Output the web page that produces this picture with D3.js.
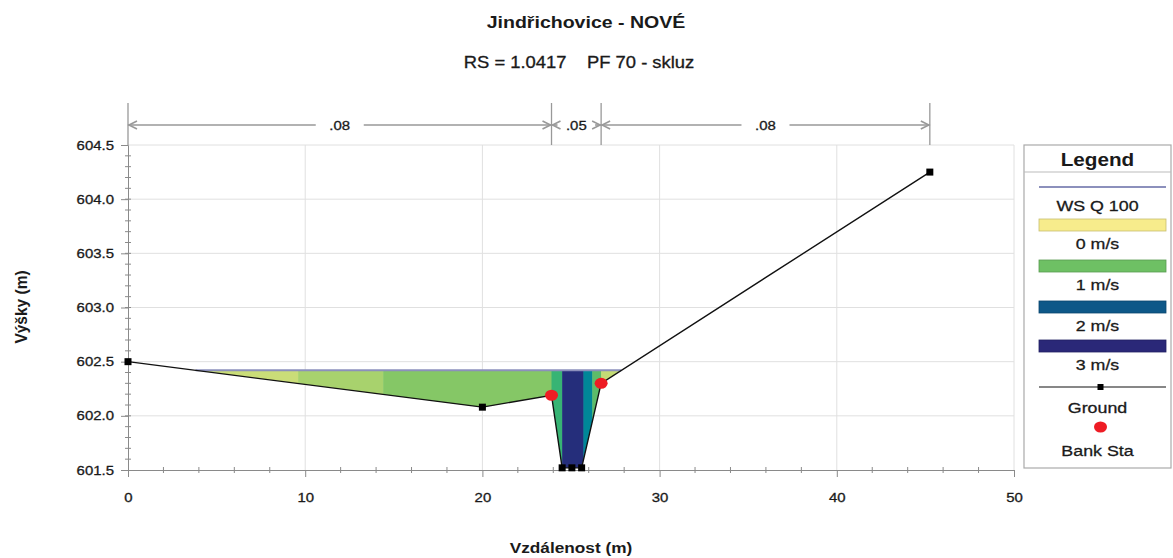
<!DOCTYPE html>
<html>
<head>
<meta charset="utf-8">
<script src="https://cdn.jsdelivr.net/npm/d3@7"></script>
<style>
  html, body { margin: 0; padding: 0; background: #fff; }
  svg { display: block; font-family: "Liberation Sans", Arial, sans-serif; }
  text.reg { stroke: #1a1a1a; stroke-width: 0.3; }
</style>
</head>
<body>
<svg id="chart" width="1173" height="558"></svg>
<script>
// Cross-section geometry (station m, elevation m)
const station   = [0, 20, 23.9, 24.5, 25.05, 25.6, 26.7, 45.25];
const elevation = [602.5, 602.08, 602.19, 601.52, 601.52, 601.52, 602.3, 604.25];

// Bank stations
const bankStation = [23.9, 26.7];

// Water surface for profile Q 100
const wsElevation = 602.42;

// Manning's n zones
const manningN     = [".08", ".05", ".08"];
const manningEdges = [0, 23.9, 26.7, 45.25];

// Velocity distribution: strip boundaries and velocities (m/s)
const stripEdges = [0, 9.6, 14.4, 23.9, 24.5, 25.7, 26.2, 26.7, 45.25];
const stripVel   = [0.35, 0.6, 0.85, 1.15, 2.9, 1.6, 1.05, 0.4];

// Axis ticks
const xTicks = [0, 10, 20, 30, 40, 50];
const yTicks = [601.5, 602.0, 602.5, 603.0, 603.5, 604.0, 604.5];

// Legend entries
const legendVel = [0, 1, 2, 3];
const velColors = ["#f7ec8c", "#6ec064", "#0e5888", "#2a2878"];

const SX = 1.15; // horizontal text stretch used throughout the plot

const svg = d3.select("#chart");
const x = d3.scaleLinear().domain([0, 50]).range([128, 1014]);
const y = d3.scaleLinear().domain([601.5, 604.5]).range([470, 145]);
const vColor = d3.scaleLinear().domain(legendVel).range(velColors)
  .interpolate(d3.interpolateHcl).clamp(true);

const ground = station.map((s, i) => ({ s, z: elevation[i] }));
const plotTop = y(604.5), plotBottom = y(601.5);

// Text helper: places text at (tx, ty) with the horizontal stretch
function label(parent, tx, ty, str, size, opts = {}) {
  return parent.append("text")
    .attr("class", opts.bold ? null : "reg")
    .attr("transform", `translate(${tx},${ty}) scale(${SX},1)`)
    .attr("text-anchor", opts.anchor || "middle")
    .attr("font-size", size)
    .attr("font-weight", opts.bold ? "bold" : "normal")
    .attr("fill", opts.fill || "#1a1a1a")
    .attr("xml:space", "preserve")
    .text(str);
}

// Title
label(svg, 586, 28, "Jindřichovice - NOVÉ", 17, { bold: true });
label(svg, 579, 68, "RS = 1.0417    PF 70 - skluz", 16);

// Grid
const grid = svg.append("g").attr("stroke", "#e0e0e0").attr("stroke-width", 1);
xTicks.filter(d => d > 0).forEach(d => {
  grid.append("line").attr("x1", x(d)).attr("x2", x(d)).attr("y1", plotTop).attr("y2", plotBottom);
});
yTicks.filter(d => d > 601.5).forEach(d => {
  grid.append("line").attr("x1", x(0)).attr("x2", x(50)).attr("y1", y(d)).attr("y2", y(d));
});

// Velocity-coloured flow area: strips clipped below the water surface and above the ground
const defs = svg.append("defs");
defs.append("clipPath").attr("id", "belowWS").append("rect")
  .attr("x", x(0)).attr("y", y(wsElevation)).attr("width", x(50) - x(0)).attr("height", plotBottom - y(wsElevation));
const aboveGround = d3.area().x(d => x(d.s)).y0(d => y(d.z)).y1(plotTop - 20);
defs.append("clipPath").attr("id", "aboveGround").append("path").attr("d", aboveGround(ground));

const flow = svg.append("g").attr("clip-path", "url(#belowWS)")
  .append("g").attr("clip-path", "url(#aboveGround)");
flow.selectAll("rect").data(stripVel).join("rect")
  .attr("x", (d, i) => x(stripEdges[i]))
  .attr("width", (d, i) => x(stripEdges[i + 1]) - x(stripEdges[i]) + 0.5)
  .attr("y", y(wsElevation))
  .attr("height", plotBottom - y(wsElevation))
  .attr("fill", d => vColor(d));

// Water surface line between the ground intercepts
function wsIntercepts() {
  const pts = [];
  for (let i = 0; i < ground.length - 1; i++) {
    const a = ground[i], b = ground[i + 1];
    if ((a.z - wsElevation) * (b.z - wsElevation) < 0) {
      const t = (wsElevation - a.z) / (b.z - a.z);
      pts.push(a.s + t * (b.s - a.s));
    }
  }
  return [pts[0], pts[pts.length - 1]];
}
const [wsL, wsR] = wsIntercepts();
svg.append("line").attr("x1", x(wsL)).attr("x2", x(wsR))
  .attr("y1", y(wsElevation)).attr("y2", y(wsElevation))
  .attr("stroke", "#8c90bc").attr("stroke-width", 2);

// Axes
const axisCol = "#8a8a8a";
const yAxis = d3.axisLeft(y).tickValues(yTicks).tickFormat(d3.format(".1f")).tickSize(7).tickPadding(7);
const gy = svg.append("g").attr("transform", `translate(${x(0)},0)`).call(yAxis);
const xAxis = d3.axisBottom(x).tickValues(xTicks).tickSize(7).tickPadding(16);
const gx = svg.append("g").attr("transform", `translate(0,${plotBottom})`).call(xAxis);
[gx, gy].forEach(g => {
  g.select(".domain").attr("stroke", axisCol);
  g.selectAll(".tick line").attr("stroke", axisCol);
  g.selectAll(".tick text").attr("font-size", 13).attr("fill", "#1a1a1a").attr("class", "reg")
    .attr("font-family", "'Liberation Sans', Arial, sans-serif");
});
gy.selectAll(".tick text").attr("transform", `scale(${SX},1)`).attr("x", -14 / SX);
gx.selectAll(".tick text").attr("transform", `scale(${SX},1)`).attr("x", 0);

// Minor ticks
const minor = svg.append("g").attr("stroke", axisCol);
d3.range(601.6, 604.45, 0.1).forEach(v => {
  minor.append("line").attr("x1", x(0) - 3).attr("x2", x(0) + 3).attr("y1", y(v)).attr("y2", y(v));
});
d3.range(2, 50, 2).filter(v => v % 10 !== 0).forEach(v => {
  minor.append("line").attr("x1", x(v)).attr("x2", x(v)).attr("y1", plotBottom - 3).attr("y2", plotBottom + 3);
});

// Ground line with point markers
svg.append("path").datum(ground)
  .attr("d", d3.line().x(d => x(d.s)).y(d => y(d.z)))
  .attr("fill", "none").attr("stroke", "#111").attr("stroke-width", 1.4);
svg.append("g").selectAll("rect").data(ground).join("rect")
  .attr("x", d => x(d.s) - 3.5).attr("y", d => y(d.z) - 3.5)
  .attr("width", 7).attr("height", 7).attr("fill", "#000");

// Bank stations
function groundAt(s) {
  for (let i = 0; i < ground.length - 1; i++) {
    const a = ground[i], b = ground[i + 1];
    if (s >= a.s && s <= b.s) return a.z + (s - a.s) / (b.s - a.s) * (b.z - a.z);
  }
  return ground[ground.length - 1].z;
}
svg.append("g").selectAll("ellipse").data(bankStation).join("ellipse")
  .attr("cx", d => x(d)).attr("cy", d => y(groundAt(d)))
  .attr("rx", 6.5).attr("ry", 5.5).attr("fill", "#ee1c24");

// Manning's n dimension bar
const dimY = 125, dimTop = 103;
const dim = svg.append("g").attr("stroke", "#999").attr("fill", "none");
manningEdges.forEach(e => {
  dim.append("line").attr("x1", x(e)).attr("x2", x(e)).attr("y1", dimTop).attr("y2", plotTop).attr("stroke-width", 1.3);
});
manningN.forEach((n, i) => {
  const a = x(manningEdges[i]), b = x(manningEdges[i + 1]);
  const mid = (a + b) / 2;
  const half = n.length * 5 + 9;
  const gapL = Math.max(a + 6, mid - half), gapR = Math.min(b - 6, mid + half);
  dim.append("line").attr("x1", a).attr("x2", gapL).attr("y1", dimY).attr("y2", dimY).attr("stroke-width", 1.6);
  dim.append("line").attr("x1", gapR).attr("x2", b).attr("y1", dimY).attr("y2", dimY).attr("stroke-width", 1.6);
  // arrow heads pointing to the zone boundaries
  dim.append("path").attr("d", `M${a + 9},${dimY - 4} L${a + 1},${dimY} L${a + 9},${dimY + 4}`).attr("stroke-width", 1.6);
  dim.append("path").attr("d", `M${b - 9},${dimY - 4} L${b - 1},${dimY} L${b - 9},${dimY + 4}`).attr("stroke-width", 1.6);
  label(svg, mid, dimY + 4.5, n, 13);
});

// Axis titles
label(svg, 571, 553, "Vzdálenost (m)", 15, { bold: true });
svg.append("text").attr("transform", "translate(27,307) rotate(-90) scale(1,1.1)").attr("text-anchor", "middle")
  .attr("font-size", 15.5).attr("font-weight", "bold").attr("fill", "#1a1a1a").text("Výšky (m)");

// Legend
const lg = svg.append("g");
const lx0 = 1024, lx1 = 1171, lcx = (lx0 + lx1) / 2;
lg.append("rect").attr("x", lx0).attr("y", 145).attr("width", lx1 - lx0).attr("height", 323)
  .attr("fill", "#fff").attr("stroke", "#aaa").attr("stroke-width", 1.2);
lg.append("line").attr("x1", lx0).attr("x2", lx1).attr("y1", 172).attr("y2", 172).attr("stroke", "#bbb");
label(lg, lcx, 166, "Legend", 18, { bold: true });
const sx0 = 1039, sx1 = 1166;
lg.append("line").attr("x1", sx0).attr("x2", sx1).attr("y1", 187).attr("y2", 187)
  .attr("stroke", "#8c90bc").attr("stroke-width", 2);
label(lg, lcx, 211, "WS Q 100", 15.5);
const swatchY = [219, 260, 301, 340];
legendVel.forEach((v, i) => {
  lg.append("rect").attr("x", sx0).attr("y", swatchY[i]).attr("width", sx1 - sx0).attr("height", 12)
    .attr("fill", vColor(v)).attr("stroke", d3.color(vColor(v)).darker(0.6)).attr("stroke-width", 0.8);
  label(lg, lcx, swatchY[i] + 30, `${v} m/s`, 15.5);
});
lg.append("line").attr("x1", sx0).attr("x2", sx1).attr("y1", 387).attr("y2", 387).attr("stroke", "#111").attr("stroke-width", 1.2);
lg.append("rect").attr("x", lcx).attr("y", 384).attr("width", 6).attr("height", 6).attr("fill", "#000");
label(lg, lcx, 413, "Ground", 15.5);
lg.append("ellipse").attr("cx", lcx + 3).attr("cy", 427).attr("rx", 6.5).attr("ry", 5.5).attr("fill", "#ee1c24");
label(lg, lcx, 456, "Bank Sta", 15.5);
</script>
</body>
</html>
